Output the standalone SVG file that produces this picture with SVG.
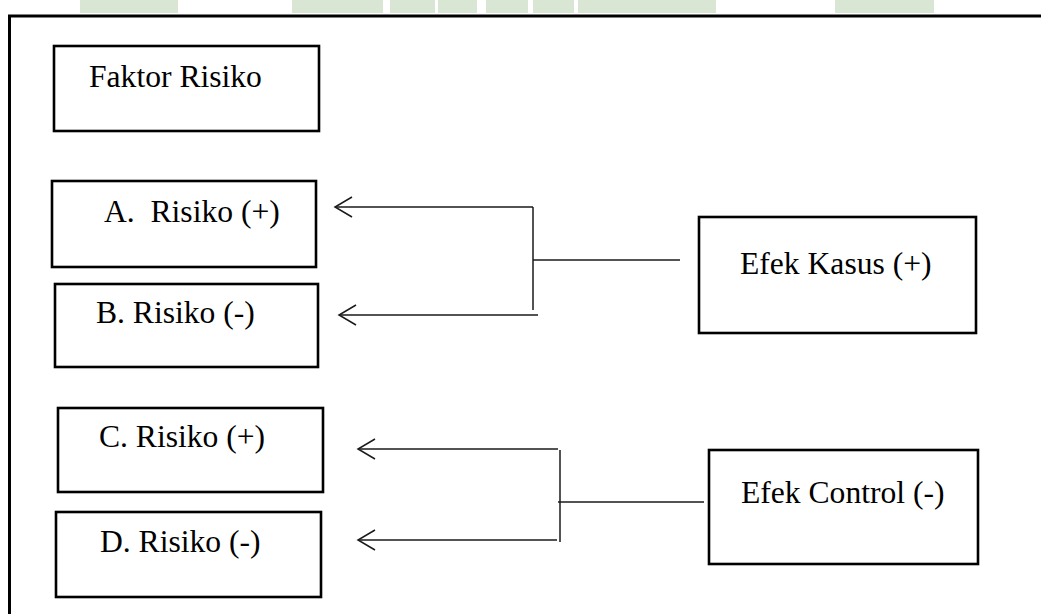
<svg xmlns="http://www.w3.org/2000/svg" width="1041" height="614" viewBox="0 0 1041 614">
  <defs>
    <style>
      .box { fill: #ffffff; stroke: #000000; stroke-width: 2.6; }
      .lbl { font-family: "Liberation Serif", "Times New Roman", serif; font-size: 31.6px; fill: #000000; white-space: pre; }
      .conn { fill: none; stroke: #1a1a1a; stroke-width: 1.5; }
      .wm { fill: #d8e6d3; }
    </style>
    <marker id="openArrow" markerUnits="userSpaceOnUse" markerWidth="20" markerHeight="24" viewBox="-1 -2 20 24" refX="17" refY="10" orient="auto">
      <path d="M0,0 L17,10 L0,20" fill="none" stroke="#1a1a1a" stroke-width="1.5"/>
    </marker>
  </defs>
  <rect x="0" y="0" width="1041" height="614" fill="#ffffff"/>

  <g id="watermark">
    <rect class="wm" x="80" y="0" width="98" height="13"/>
    <rect class="wm" x="292" y="0" width="91" height="13"/>
    <rect class="wm" x="390" y="0" width="45" height="13"/>
    <rect class="wm" x="438" y="0" width="39" height="13"/>
    <rect class="wm" x="486" y="0" width="42" height="13"/>
    <rect class="wm" x="533" y="0" width="41" height="13"/>
    <rect class="wm" x="578" y="0" width="138" height="13"/>
    <rect class="wm" x="835" y="0" width="99" height="13"/>
  </g>

  <g id="frame">
    <path d="M9.5,614 V16 H1041" fill="none" stroke="#000000" stroke-width="3"/>
  </g>

  <g id="connectors">
    <path class="conn" d="M533,207 H335" marker-end="url(#openArrow)"/>
    <path class="conn" d="M533,207 V310"/>
    <path class="conn" d="M538,315 H339" marker-end="url(#openArrow)"/>
    <path class="conn" d="M533,260 H680"/>
    <path class="conn" d="M558,449 H358" marker-end="url(#openArrow)"/>
    <path class="conn" d="M560,450 V542"/>
    <path class="conn" d="M557,540 H358" marker-end="url(#openArrow)"/>
    <path class="conn" d="M558,502 H704"/>
  </g>

  <g id="faktor-risiko">
    <rect class="box" x="54" y="46" width="265" height="85"/>
    <text class="lbl" x="89" y="87">Faktor Risiko</text>
  </g>
  <g id="risiko-a">
    <rect class="box" x="52" y="181" width="264" height="86"/>
    <text class="lbl" x="104" y="222" xml:space="preserve">A.  Risiko (+)</text>
  </g>
  <g id="risiko-b">
    <rect class="box" x="55" y="284" width="263" height="83"/>
    <text class="lbl" x="96" y="323">B. Risiko (-)</text>
  </g>
  <g id="risiko-c">
    <rect class="box" x="58" y="408" width="265" height="84"/>
    <text class="lbl" x="99" y="447">C. Risiko (+)</text>
  </g>
  <g id="risiko-d">
    <rect class="box" x="56" y="512" width="265" height="85"/>
    <text class="lbl" x="100" y="552">D. Risiko (-)</text>
  </g>
  <g id="efek-kasus">
    <rect class="box" x="699" y="217" width="277" height="116"/>
    <text class="lbl" x="740" y="274">Efek Kasus (+)</text>
  </g>
  <g id="efek-control">
    <rect class="box" x="709" y="450" width="269" height="114"/>
    <text class="lbl" x="741" y="503">Efek Control (-)</text>
  </g>
</svg>
